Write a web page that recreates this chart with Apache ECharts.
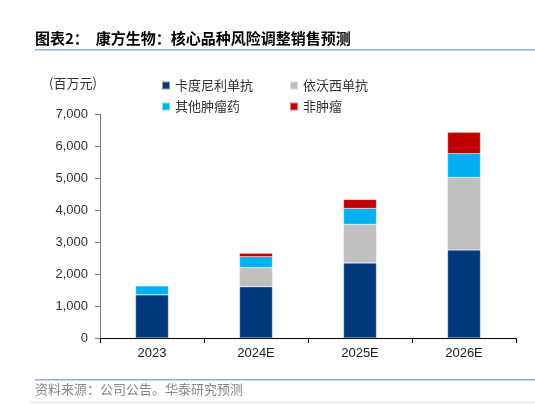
<!DOCTYPE html>
<html><head><meta charset="utf-8">
<script src="https://cdn.jsdelivr.net/npm/echarts@6/dist/echarts.min.js"></script>
<style>html,body{margin:0;padding:0;background:#fff}#c{width:535px;height:404px}</style>
</head><body><div id="c"></div>
<script>
var categories = ['2023', '2024E', '2025E', '2026E'];
var cadonilimab = [1350, 1600, 2340, 2750];
var ivonescimab = [0, 600, 1210, 2270];
var otherOnco = [280, 340, 500, 740];
var nonOnco = [0, 110, 280, 670];
var seriesNames = ['卡度尼利单抗', '依沃西单抗', '其他肿瘤药', '非肿瘤'];
var colors = ['#003a7a', '#bfbfbf', '#00b0f0', '#c00000'];
var yTicks = [0, 1000, 2000, 3000, 4000, 5000, 6000, 7000];

var font = '"Noto Sans CJK SC", sans-serif';
var chart = echarts.init(document.getElementById('c'), null, {renderer: 'canvas'});
var dataSets = [cadonilimab, ivonescimab, otherOnco, nonOnco];
var series = dataSets.map(function (d, i) {
  return {
    name: seriesNames[i], type: 'bar', stack: 'total', barWidth: 33,
    data: d,
    itemStyle: {color: colors[i], borderColor: 'rgba(255,255,255,0.5)', borderWidth: 0.5}
  };
});
var legendPos = [[161, 79], [289, 79], [161, 100], [289, 100]];
var legends = seriesNames.map(function (n, i) {
  return {
    data: [n], left: legendPos[i][0], top: legendPos[i][1],
    itemWidth: 8, itemHeight: 8, itemGap: 5, icon: 'rect', padding: 0,
    textStyle: {fontFamily: font, fontSize: 13, color: '#333'}
  };
});
chart.setOption({
  animation: false,
  color: colors,
  grid: {left: 100, right: 19, top: 114, bottom: 66},
  legend: legends,
  xAxis: {
    type: 'category', data: categories,
    axisLine: {lineStyle: {color: '#000', width: 1}},
    axisTick: {show: true, alignWithLabel: false, length: 5, lineStyle: {color: '#000'}},
    axisLabel: {fontFamily: 'Liberation Sans, Arial', fontSize: 13, color: '#222', margin: 9}
  },
  yAxis: {
    type: 'value', min: yTicks[0], max: yTicks[yTicks.length - 1], interval: 1000,
    axisLine: {show: true, lineStyle: {color: '#777'}},
    axisTick: {show: true, inside: false, length: 5, lineStyle: {color: '#777'}},
    splitLine: {show: false},
    axisLabel: {fontFamily: 'Liberation Sans, Arial', fontSize: 13, color: '#333', margin: 12,
      formatter: function (v) { return v.toLocaleString('en-US'); }}
  },
  series: series,
  graphic: [
    {type: 'text', left: 35, top: 31, style: {text: '图表2：  康方生物：核心品种风险调整销售预测', font: 'bold 15px ' + font, fill: '#000'}},
    {type: 'rect', shape: {x: 35, y: 49, width: 500, height: 1.5}, style: {fill: '#8eb0db'}},
    {type: 'text', left: 49, top: 77, style: {text: '(百万元)', font: '13px ' + font, fill: '#333'}},
    {type: 'rect', shape: {x: 35, y: 379, width: 500, height: 1.5}, style: {fill: '#8eb0db'}},
    {type: 'text', left: 35, top: 383, style: {text: '资料来源：公司公告。华泰研究预测', font: '13px ' + font, fill: '#888'}},
    {type: 'rect', shape: {x: 30, y: 402, width: 505, height: 1}, style: {fill: '#dde6f2'}}
  ]
});
</script></body></html>
